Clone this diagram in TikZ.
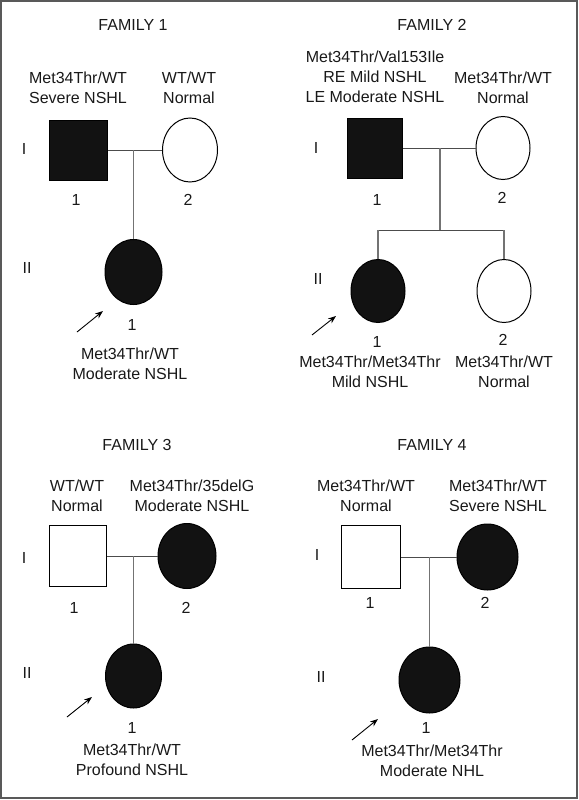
\documentclass[tikz,border=0pt]{standalone}
\usepackage{fontspec}
\setmainfont{Liberation Sans}
\usetikzlibrary{shapes.geometric,arrows.meta}
\begin{document}
\begin{tikzpicture}[x=1pt,y=-1pt,
  txt/.style={align=center,inner sep=0pt,font=\fontsize{16}{20}\selectfont,text=black!90},
  sqf/.style={draw=black,line width=1pt,fill=black!93,minimum width=#1,minimum height=60pt,inner sep=0pt},
  sqo/.style={draw=black,line width=1pt,fill=white,minimum width=#1,minimum height=61pt,inner sep=0pt},
  cif/.style={ellipse,draw=black,line width=1pt,fill=black!93,minimum width=57pt,minimum height=65pt,inner sep=0pt},
  cio/.style={ellipse,draw=black,line width=1pt,fill=white,minimum width=55pt,minimum height=64pt,inner sep=0pt},
  mline/.style={draw=black!70,line width=0.9pt},
  dline/.style={draw=black!55,line width=1.1pt},
  prob/.style={draw=black,line width=0.9pt,-{Stealth[length=8pt,width=6pt]}}]
\useasboundingbox (0,0) rectangle (578,800);
\draw[black!65,line width=2pt] (1,1) rectangle (576.5,798);

% ---------------- FAMILY 1
\node[txt] (t1) at (133,25) {FAMILY 1};
\node[txt] (f1a) at (78,87.5) {Met34Thr/WT\\Severe NSHL};
\node[txt] (f1b) at (189,87.5) {WT/WT\\Normal};
\node[sqf=58pt] (f1s) at (78,150) {};
\node[cio] (f1c) at (190,150) {};
\node[txt] (f1n1) at (76,200) {1};
\node[txt] (f1n2) at (188,200) {2};
\node[txt] (f1g1) at (24,149) {I};
\node[txt] (f1g2) at (27,268) {II};
\node[cif] (f1k) at (133.5,272) {};
\node[txt] (f1kn) at (132,325) {1};
\node[txt] (f1kl) at (130,364) {Met34Thr/WT\\Moderate NSHL};
\coordinate (f1m) at (133.5,150);
\coordinate (f1p) at (77,332);
\draw[mline] (f1s.east) -- (f1c.west);
\draw[dline] (f1m) -- (f1k.north);
\draw[prob] (f1p) -- (103,311);

% ---------------- FAMILY 2
\node[txt] (t2) at (432,25) {FAMILY 2};
\node[txt] (f2a) at (375,77) {Met34Thr/Val153Ile\\RE Mild NSHL\\LE Moderate NSHL};
\node[txt] (f2b) at (503,87.5) {Met34Thr/WT\\Normal};
\node[sqf=55pt] (f2s) at (375,148) {};
\node[cio,minimum width=54pt,minimum height=63pt] (f2c) at (503,148) {};
\node[txt] (f2n1) at (377,200) {1};
\node[txt] (f2n2) at (502,198) {2};
\node[txt] (f2g1) at (316,148) {I};
\node[txt] (f2g2) at (318,279) {II};
\coordinate (f2m) at (440,148);
\coordinate (f2j) at (440,230);
\node[cif,minimum width=54pt,minimum height=63pt] (f2k1) at (378,291) {};
\node[cio,minimum width=54pt,minimum height=63pt] (f2k2) at (504,291) {};
\coordinate (f2l) at (378,230);
\coordinate (f2r) at (504,230);
\node[txt] (f2kn1) at (377,342) {1};
\node[txt] (f2kn2) at (503,340) {2};
\node[txt] (f2kl1) at (370,372) {Met34Thr/Met34Thr\\Mild NSHL};
\node[txt] (f2kl2) at (504,372) {Met34Thr/WT\\Normal};
\coordinate (f2p) at (312,335);
\draw[mline] (f2s.east) -- (f2c.west);
\draw[dline] (f2m) -- (f2j);
\draw[mline] (f2l) -- (f2r);
\draw[dline] (f2l) -- (f2k1.north);
\draw[dline] (f2r) -- (f2k2.north);
\draw[prob] (f2p) -- (336,316);

% ---------------- FAMILY 3
\node[txt] (t3) at (137,445) {FAMILY 3};
\node[txt] (f3a) at (77,495.5) {WT/WT\\Normal};
\node[txt] (f3b) at (192,495.5) {Met34Thr/35delG\\Moderate NSHL};
\node[sqo=57pt] (f3s) at (77.5,556) {};
\node[cif,minimum width=58pt] (f3c) at (187,556) {};
\node[txt] (f3n1) at (74,608) {1};
\node[txt] (f3n2) at (186,608) {2};
\node[txt] (f3g1) at (24,558) {I};
\node[txt] (f3g2) at (27,673) {II};
\node[cif,minimum width=56pt,minimum height=64pt] (f3k) at (133.5,676) {};
\node[txt] (f3kn) at (132,728) {1};
\node[txt] (f3kl) at (132,760) {Met34Thr/WT\\Profound NSHL};
\coordinate (f3m) at (133.5,556);
\coordinate (f3p) at (67,717);
\draw[mline] (f3s.east) -- (f3c.west);
\draw[dline] (f3m) -- (f3k.north);
\draw[prob] (f3p) -- (92,697);

% ---------------- FAMILY 4
\node[txt] (t4) at (432,445) {FAMILY 4};
\node[txt] (f4a) at (366,495.5) {Met34Thr/WT\\Normal};
\node[txt] (f4b) at (498,495.5) {Met34Thr/WT\\Severe NSHL};
\node[sqo=59pt,minimum height=63pt] (f4s) at (371,557) {};
\node[cif,minimum width=61pt,minimum height=66pt] (f4c) at (487.5,557) {};
\node[txt] (f4n1) at (370,603) {1};
\node[txt] (f4n2) at (485,603) {2};
\node[txt] (f4g1) at (317,555) {I};
\node[txt] (f4g2) at (321,677) {II};
\node[cif,minimum width=61pt,minimum height=66pt] (f4k) at (429.5,680) {};
\node[txt] (f4kn) at (426,728) {1};
\node[txt] (f4kl) at (432,761) {Met34Thr/Met34Thr\\Moderate NHL};
\coordinate (f4m) at (429.5,557);
\coordinate (f4p) at (352,740);
\draw[mline] (f4s.east) -- (f4c.west);
\draw[dline] (f4m) -- (f4k.north);
\draw[prob] (f4p) -- (378,719);
\end{tikzpicture}
\end{document}
